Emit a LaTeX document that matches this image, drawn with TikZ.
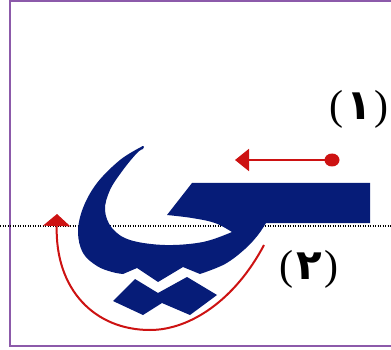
\documentclass[tikz,border=0pt]{standalone}
\usepackage{fontspec}
\setmainfont{Liberation Serif}
\newfontfamily\arfont[Script=Arabic]{DejaVu Sans}
\usetikzlibrary{arrows.meta}
\definecolor{framepurple}{RGB}{140,90,170}
\definecolor{glyphblue}{RGB}{6,28,120}
\definecolor{arrowred}{RGB}{205,18,18}
\tikzset{
  framebox/.style={draw=framepurple,line width=1.5pt},
  baseline line/.style={draw=black,line width=1.2pt,dash pattern=on 1.2pt off 1.3pt},
  glyph/.style={fill=glyphblue},
  redarrow/.style={draw=arrowred,line width=2pt},
  lbl/.style={inner sep=0pt,font=\fontsize{42}{46}\selectfont}
}
\begin{document}
\begin{tikzpicture}[x=1pt,y=-1pt]
\useasboundingbox (0,0) rectangle (391,350);
\fill[white] (0,0) rectangle (391,350);
% frame
\draw[framebox] (391,1) -- (10,1) -- (10,346) -- (391,346);
% baseline
\coordinate (bl) at (0,226);
\coordinate (br) at (391,226);
\draw[baseline line] (bl) -- (br);
% glyph
\fill[glyph] (141,147)
  -- plot[smooth,tension=0.6] coordinates {(141,147) (120,160) (97,183) (83,208) (78,232) (83,253) (97,266) (112,272) (123,274)}
  -- (137,268) -- (158,282) -- (183,267) -- (200,274)
  -- plot[smooth,tension=0.6] coordinates {(200,274) (225,264) (245,249) (258,235) (266,223)}
  -- (370,223) -- (370,183) -- (192,183) -- (167,215)
  -- plot[smooth,tension=0.6] coordinates {(167,215) (192,218) (215,223) (232,232)}
  -- plot[smooth,tension=0.6] coordinates {(232,232) (203,242) (165,245) (130,240) (112,228) (105,210) (110,190) (123,170) (137,153) (143,149)}
  .. controls (145,146) and (143,145) .. (141,147) -- cycle;
% diamonds
\fill[glyph] (113,301) -- (135,279) -- (158,293) -- (187,277) -- (217,295) -- (190,315) -- (162,303) -- (143,315) -- cycle;
% arrow 1
\coordinate (dot) at (332,160);
\coordinate (tip1) at (235,160);
\fill[arrowred] (dot) circle[x radius=7.5pt,y radius=6.5pt];
\draw[redarrow,-{Triangle[length=14pt,width=22pt]}] (dot) -- (tip1);
% arrow 2
\coordinate (s2) at (264,245);
\coordinate (m2) at (150,330);
\coordinate (tip2) at (57,214);
\draw[redarrow,-{Triangle[length=12pt,width=27pt]}] (s2) .. controls (235,300) and (190,330) .. (m2) .. controls (95,330) and (55,290) .. (tip2);
% labels
\node[lbl] (l1) at (359,109) {(\hspace{2.5pt}{\arfont\bfseries ١}\hspace{2.5pt})};
\node[lbl] (l2) at (309,269) {(\hspace{2.5pt}{\arfont\bfseries ٢}\hspace{2.5pt})};
\end{tikzpicture}
\end{document}
